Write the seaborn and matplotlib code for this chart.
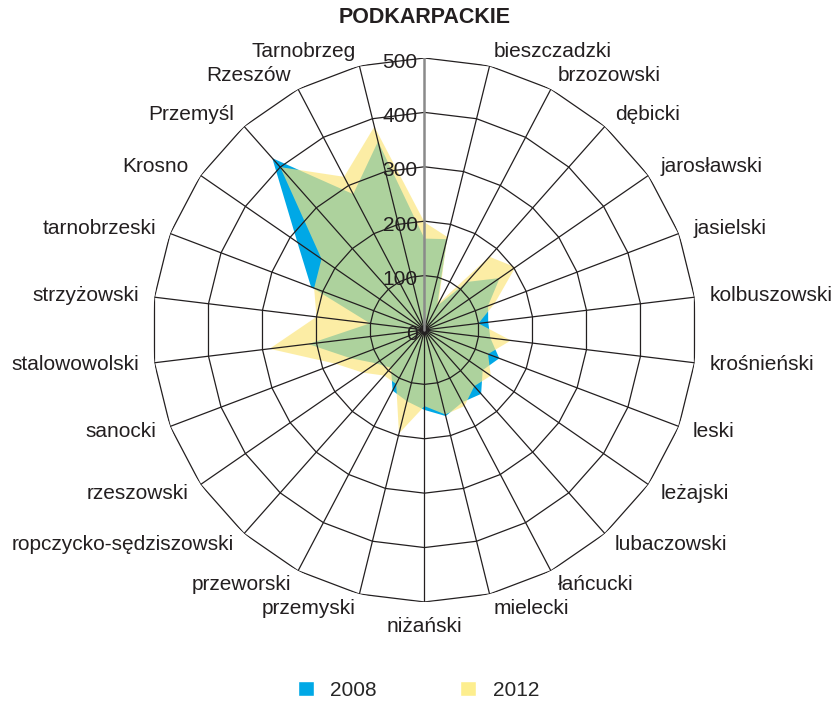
import numpy as np
import pandas as pd
import matplotlib
matplotlib.use('Agg')
import matplotlib.pyplot as plt
import seaborn as sns
from matplotlib.patches import Patch

# Kategorie (pierwsza to województwo, na górze wykresu)
kategorie = ['PODKARPACKIE', 'bieszczadzki', 'brzozowski', 'dębicki', 'jarosławski',
             'jasielski', 'kolbuszowski', 'krośnieński', 'leski', 'leżajski',
             'lubaczowski', 'łańcucki', 'mielecki', 'niżański', 'przemyski',
             'przeworski', 'ropczycko-sędziszowski', 'rzeszowski', 'sanocki',
             'stalowowolski', 'strzyżowski', 'tarnobrzeski', 'Krosno', 'Przemyśl',
             'Rzeszów', 'Tarnobrzeg']

wartosci_2008 = [168, 172, 50, 118, 168, 125, 118, 122, 147, 130, 157, 150, 163,
                 147, 135, 126, 93, 108, 146, 215, 101, 223, 284, 422, 282, 357]
wartosci_2012 = [198, 176, 55, 180, 203, 138, 100, 160, 125, 148, 138, 158, 160,
                 140, 196, 112, 112, 138, 175, 287, 200, 217, 230, 400, 318, 385]

poziomy = [0, 100, 200, 300, 400, 500]

KOLOR_2008 = '#00A8E6'
KOLOR_2012 = '#FCE67D'
KOLOR_LEG_2012 = '#FDEE8E'
KOLOR_TEKST = '#231f20'
ROZMIAR = 15

sns.set_theme(style='white')
plt.rcParams['font.family'] = ['Liberation Sans', 'DejaVu Sans']

df = pd.DataFrame({'kategoria': kategorie, '2008': wartosci_2008, '2012': wartosci_2012})
n = len(df)
kat = np.arange(n) * 2 * np.pi / n
kat_zam = np.append(kat, kat[0])

fig = plt.figure(figsize=(8.32, 7.02), dpi=100)
ax = fig.add_axes([0.1833, 0.1425, 0.6538, 0.7749], projection='polar')
ax.set_theta_zero_location('N')
ax.set_theta_direction(-1)
ax.set_ylim(0, 500)
ax.grid(False)
ax.set_xticks([])
ax.set_yticks([])
ax.spines['polar'].set_visible(False)

# serie danych
ax.fill(kat_zam, np.append(df['2008'], df['2008'].iloc[0]), color=KOLOR_2008, lw=0, zorder=1)
ax.fill(kat_zam, np.append(df['2012'], df['2012'].iloc[0]), color=KOLOR_2012, alpha=0.69,
        lw=0, zorder=2)

# siatka wielokątna i szprychy
for r in poziomy[1:]:
    ax.plot(kat_zam, [r] * (n + 1), color=KOLOR_TEKST, lw=0.9, zorder=3)
for t in kat[1:]:
    ax.plot([t, t], [0, 500], color=KOLOR_TEKST, lw=0.9, zorder=3)
ax.plot([0, 0], [0, 500], color='#8a8a8a', lw=1.8, zorder=4)

# etykiety osi wartości
for r in poziomy:
    ax.annotate(str(r), xy=(0, r), xytext=(-5, -3), textcoords='offset points',
                ha='right', va='center', fontsize=ROZMIAR, color=KOLOR_TEKST, zorder=5)

# etykiety kategorii
for i, (t, nazwa) in enumerate(zip(kat, df['kategoria'])):
    if i == 0:
        ax.text(t, 556, nazwa, ha='center', va='bottom', fontsize=15.5,
                fontweight='bold', color=KOLOR_TEKST)
        continue
    s = np.sin(t)
    ha = 'left' if s > 0.05 else ('right' if s < -0.05 else 'center')
    va = 'top' if i == 13 else 'center'
    ax.text(t, 528, nazwa, ha=ha, va=va, fontsize=ROZMIAR, color=KOLOR_TEKST)

uchwyty = [Patch(facecolor=KOLOR_2008, label='2008'),
           Patch(facecolor=KOLOR_LEG_2012, label='2012')]
fig.legend(handles=uchwyty, loc='lower center', bbox_to_anchor=(0.503, -0.024), ncol=2,
           frameon=False, fontsize=ROZMIAR, handlelength=0.75, handleheight=0.75,
           handletextpad=0.8, columnspacing=4.0)

fig.savefig('out.png', dpi=100)
